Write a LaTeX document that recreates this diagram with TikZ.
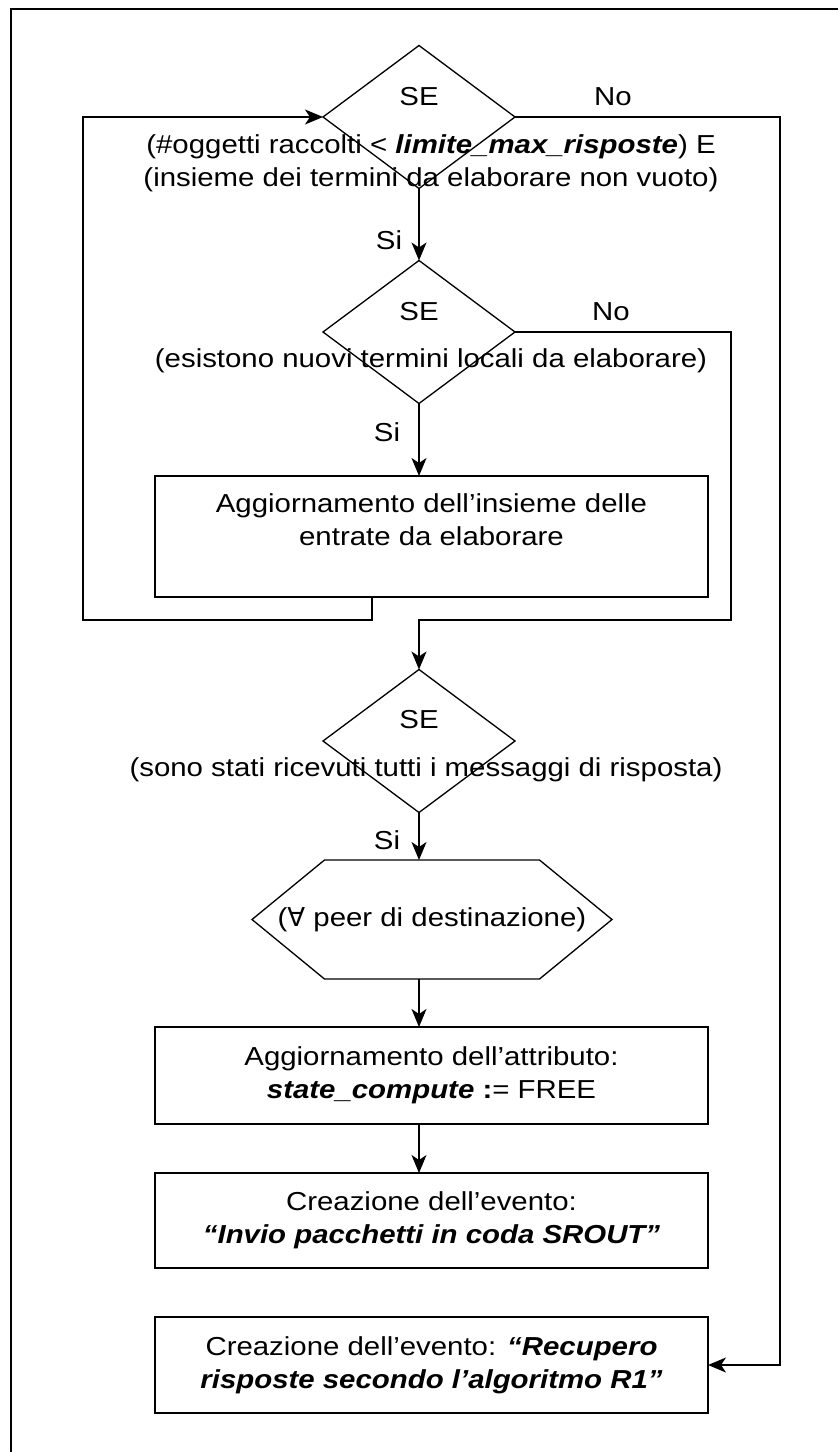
\documentclass[tikz,border=0pt]{standalone}
\usepackage{fontspec}
\setmainfont{Liberation Sans}[FakeStretch=1.13]
\newfontfamily\symbfont{DejaVu Sans}
\usetikzlibrary{arrows.meta, positioning, shapes.geometric, calc}

\begin{document}
\begin{tikzpicture}[
  font=\fontsize{14.8}{18.8}\selectfont,
  flow/.style    = {draw=black, line width=0.75pt},
  arr/.style     = {flow, -{Stealth[length=0.36cm, width=0.3cm, inset=0.1cm]}},
  cond/.style    = {diamond, draw=black, line width=0.75pt, minimum width=3.84cm,
                    minimum height=2.86cm, inner sep=0pt, outer sep=0pt},
  condtxt/.style = {align=center, inner sep=0pt},
  lbl/.style     = {inner sep=0pt},
  procbox/.style = {draw=black, line width=0.75pt, minimum width=11.06cm,
                    align=center, inner sep=0pt, outer sep=0pt},
  hexbox/.style  = {minimum width=7.2cm, minimum height=2.38cm, inner sep=0pt, outer sep=0pt},
]

\useasboundingbox (0,0) rectangle (16.76,-29.04);
\draw[line width=1.1pt] (0.22,-29.04) -- (0.22,-0.18) -- (16.76,-0.18);

\node[cond] (se1) at (8.38,-2.34) {};
\node[lbl] (se1t) at (8.38,-1.94) {SE};
\node[lbl] (no1) at (12.26,-1.94) {No};
\node[condtxt] (c1) at (8.62,-3.27)
  {(\#oggetti raccolti < {\bfseries\itshape limite\_max\_risposte}) E\\(insieme dei termini da elaborare non vuoto)};

\node[cond] (se2) at (8.38,-6.64) {};
\node[lbl] (se2t) at (8.38,-6.24) {SE};
\node[lbl] (no2) at (12.22,-6.24) {No};
\node[condtxt] (c2) at (8.62,-7.22) {(esistono nuovi termini locali da elaborare)};

\node[procbox, minimum height=2.42cm] (upd) at (8.63,-10.73)
  {Aggiornamento dell’insieme delle\\entrate da elaborare\\\mbox{}};

\node[cond] (se3) at (8.38,-14.82) {};
\node[lbl] (se3t) at (8.38,-14.40) {SE};
\node[condtxt] (c3) at (8.52,-15.40) {(sono stati ricevuti tutti i messaggi di risposta)};

\node[hexbox] (peer) at (8.64,-18.39) {({\symbfont ∀} peer di destinazione)};
\draw[flow] (peer.west) -- ([xshift=1.45cm]peer.north west) -- ([xshift=-1.45cm]peer.north east)
  -- (peer.east) -- ([xshift=-1.45cm]peer.south east) -- ([xshift=1.45cm]peer.south west) -- cycle;

\node[procbox, minimum height=1.94cm] (attr) at (8.63,-21.51)
  {Aggiornamento dell’attributo:\\{\bfseries\itshape state\_compute} \textbf{:}= FREE};
\node[procbox, minimum height=1.90cm] (ev1) at (8.63,-24.41)
  {Creazione dell’evento:\\{\bfseries\itshape “Invio pacchetti in coda SROUT”}};
\node[procbox, minimum height=1.92cm] (ev2) at (8.63,-27.30)
  {Creazione dell’evento: {\bfseries\itshape “Recupero}\\{\bfseries\itshape risposte secondo l’algoritmo R1”}};

\node[lbl] (si1) at (7.78,-4.80) {Si};
\node[lbl] (si2) at (7.74,-8.64) {Si};
\node[lbl] (si3) at (7.74,-16.80) {Si};

\coordinate (loopL) at (1.66,-12.40);
\coordinate (join) at (14.62,-12.40);
\coordinate (rgt) at (15.60,-2.34);

\draw[arr] (se1.south) -- (se2.north);
\draw[arr] (se2.south) -- (se2.south |- upd.north);
\draw[arr] ([xshift=-1.19cm]upd.south) |- (loopL) |- (se1.west);
\draw[arr] (se2.east) -| (join) -| (se3.north);
\draw[arr] (se1.east) -- (rgt) |- (ev2.east);
\draw[arr] (se3.south) -- (se3.south |- peer.north);
\draw[arr] (se3.south |- peer.south) -- (se3.south |- attr.north);
\draw[arr] (se3.south |- attr.south) -- (se3.south |- ev1.north);

\end{tikzpicture}
\end{document}
